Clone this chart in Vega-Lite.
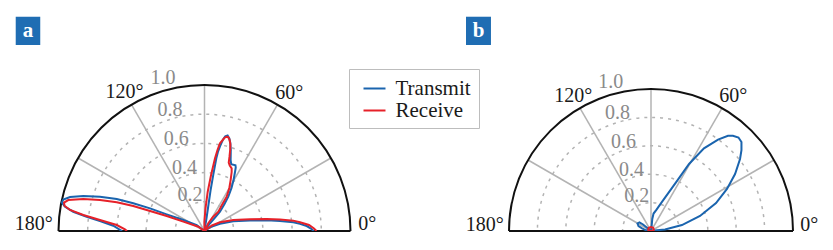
{
"$schema": "https://vega.github.io/schema/vega-lite/v6.json",
"width": 833, "height": 231,
"autosize": {"type": "none"},
"padding": {"left": 0, "top": 0, "right": 0, "bottom": 19},
"background": "white",
"config": {"view": {"stroke": null}, "font": "Liberation Serif",
  "legend": {"orient": "none", "legendX": 349, "legendY": 69, "title": null, "strokeColor": "#bdbdbd", "fillColor": "white", "padding": 7.5, "symbolOffset": 6, "symbolSize": 484, "symbolStrokeWidth": 2, "labelFont": "Liberation Serif", "labelFontSize": 21, "labelOffset": 9, "labelColor": "#1a1a1a", "rowPadding": -4, "labelLimit": 200}},
"datasets": {
  "circles": [{"cx": 0, "cy": 0, "r": 0.2}, {"cx": 0, "cy": 0, "r": 0.4}, {"cx": 0, "cy": 0, "r": 0.6}, {"cx": 0, "cy": 0, "r": 0.8}],
  "outer": [{"cx": 0, "cy": 0, "r": 1}],
  "base": [{"x": -1, "x2": 1, "y": 0}],
  "spokes": [{"x0": 0, "y0": 0, "x": 0.866, "y": 0.5}, {"x0": 0, "y0": 0, "x": 0.5, "y": 0.866}, {"x0": 0, "y0": 0, "x": 0, "y": 1}, {"x0": 0, "y0": 0, "x": -0.5, "y": 0.866}, {"x0": 0, "y0": 0, "x": -0.866, "y": 0.5}],
  "angleLabels": [{"label": "0°", "x": 1.115, "y": 0.045}, {"label": "60°", "x": 0.58, "y": 0.948}, {"label": "120°", "x": -0.548, "y": 0.95}, {"label": "180°", "x": -1.17, "y": 0.045}],
  "radialLabels": [{"label": "0.2", "x": -0.1, "y": 0.249}, {"label": "0.4", "x": -0.137, "y": 0.43}, {"label": "0.6", "x": -0.193, "y": 0.63}, {"label": "0.8", "x": -0.236, "y": 0.831}, {"label": "1.0", "x": -0.284, "y": 1.051}],
  "tagA": [{"label": "a", "x": -1.293, "x2": -1.125, "y": 1.274, "y2": 1.468, "cx": -1.209, "cy": 1.371}],
  "tagB": [{"label": "b", "x": -1.303, "x2": -1.127, "y": 1.31, "y2": 1.509, "cx": -1.215, "cy": 1.41}],
  "curves": [
    {"panel": "a", "series": "Transmit", "i": 1, "x": 0.747, "y": 0},
    {"panel": "a", "series": "Transmit", "i": 2, "x": 0.729, "y": 0.017},
    {"panel": "a", "series": "Transmit", "i": 3, "x": 0.7, "y": 0.034},
    {"panel": "a", "series": "Transmit", "i": 4, "x": 0.654, "y": 0.049},
    {"panel": "a", "series": "Transmit", "i": 5, "x": 0.608, "y": 0.06},
    {"panel": "a", "series": "Transmit", "i": 6, "x": 0.517, "y": 0.068},
    {"panel": "a", "series": "Transmit", "i": 7, "x": 0.426, "y": 0.073},
    {"panel": "a", "series": "Transmit", "i": 8, "x": 0.312, "y": 0.072},
    {"panel": "a", "series": "Transmit", "i": 9, "x": 0.197, "y": 0.066},
    {"panel": "a", "series": "Transmit", "i": 10, "x": 0.106, "y": 0.05},
    {"panel": "a", "series": "Transmit", "i": 11, "x": 0.051, "y": 0.031},
    {"panel": "a", "series": "Transmit", "i": 12, "x": 0.017, "y": 0.012},
    {"panel": "a", "series": "Transmit", "i": 13, "x": 0, "y": 0},
    {"panel": "a", "series": "Transmit", "i": 14, "x": 0.038, "y": 0.053},
    {"panel": "a", "series": "Transmit", "i": 15, "x": 0.072, "y": 0.092},
    {"panel": "a", "series": "Transmit", "i": 16, "x": 0.106, "y": 0.132},
    {"panel": "a", "series": "Transmit", "i": 17, "x": 0.137, "y": 0.185},
    {"panel": "a", "series": "Transmit", "i": 18, "x": 0.163, "y": 0.235},
    {"panel": "a", "series": "Transmit", "i": 19, "x": 0.185, "y": 0.295},
    {"panel": "a", "series": "Transmit", "i": 20, "x": 0.199, "y": 0.349},
    {"panel": "a", "series": "Transmit", "i": 21, "x": 0.209, "y": 0.404},
    {"panel": "a", "series": "Transmit", "i": 22, "x": 0.214, "y": 0.435},
    {"panel": "a", "series": "Transmit", "i": 23, "x": 0.212, "y": 0.45},
    {"panel": "a", "series": "Transmit", "i": 24, "x": 0.183, "y": 0.457},
    {"panel": "a", "series": "Transmit", "i": 25, "x": 0.179, "y": 0.486},
    {"panel": "a", "series": "Transmit", "i": 26, "x": 0.18, "y": 0.555},
    {"panel": "a", "series": "Transmit", "i": 27, "x": 0.177, "y": 0.603},
    {"panel": "a", "series": "Transmit", "i": 28, "x": 0.17, "y": 0.634},
    {"panel": "a", "series": "Transmit", "i": 29, "x": 0.158, "y": 0.654},
    {"panel": "a", "series": "Transmit", "i": 30, "x": 0.142, "y": 0.649},
    {"panel": "a", "series": "Transmit", "i": 31, "x": 0.127, "y": 0.627},
    {"panel": "a", "series": "Transmit", "i": 32, "x": 0.11, "y": 0.589},
    {"panel": "a", "series": "Transmit", "i": 33, "x": 0.092, "y": 0.541},
    {"panel": "a", "series": "Transmit", "i": 34, "x": 0.081, "y": 0.498},
    {"panel": "a", "series": "Transmit", "i": 35, "x": 0.06, "y": 0.384},
    {"panel": "a", "series": "Transmit", "i": 36, "x": 0.042, "y": 0.281},
    {"panel": "a", "series": "Transmit", "i": 37, "x": 0.027, "y": 0.178},
    {"panel": "a", "series": "Transmit", "i": 38, "x": 0.014, "y": 0.089},
    {"panel": "a", "series": "Transmit", "i": 39, "x": 0.005, "y": 0.034},
    {"panel": "a", "series": "Transmit", "i": 40, "x": 0, "y": 0},
    {"panel": "a", "series": "Transmit", "i": 41, "x": -0.053, "y": 0.041},
    {"panel": "a", "series": "Transmit", "i": 42, "x": -0.145, "y": 0.075},
    {"panel": "a", "series": "Transmit", "i": 43, "x": -0.259, "y": 0.114},
    {"panel": "a", "series": "Transmit", "i": 44, "x": -0.373, "y": 0.155},
    {"panel": "a", "series": "Transmit", "i": 45, "x": -0.488, "y": 0.19},
    {"panel": "a", "series": "Transmit", "i": 46, "x": -0.601, "y": 0.219},
    {"panel": "a", "series": "Transmit", "i": 47, "x": -0.716, "y": 0.235},
    {"panel": "a", "series": "Transmit", "i": 48, "x": -0.83, "y": 0.24},
    {"panel": "a", "series": "Transmit", "i": 49, "x": -0.921, "y": 0.233},
    {"panel": "a", "series": "Transmit", "i": 50, "x": -0.967, "y": 0.216},
    {"panel": "a", "series": "Transmit", "i": 51, "x": -0.977, "y": 0.195},
    {"panel": "a", "series": "Transmit", "i": 52, "x": -0.955, "y": 0.166},
    {"panel": "a", "series": "Transmit", "i": 53, "x": -0.899, "y": 0.132},
    {"panel": "a", "series": "Transmit", "i": 54, "x": -0.807, "y": 0.098},
    {"panel": "a", "series": "Transmit", "i": 55, "x": -0.716, "y": 0.068},
    {"panel": "a", "series": "Transmit", "i": 56, "x": -0.625, "y": 0.036},
    {"panel": "a", "series": "Transmit", "i": 57, "x": -0.565, "y": 0},
    {"panel": "a", "series": "Receive", "i": 1, "x": 0.767, "y": 0},
    {"panel": "a", "series": "Receive", "i": 2, "x": 0.75, "y": 0.017},
    {"panel": "a", "series": "Receive", "i": 3, "x": 0.716, "y": 0.041},
    {"panel": "a", "series": "Receive", "i": 4, "x": 0.654, "y": 0.06},
    {"panel": "a", "series": "Receive", "i": 5, "x": 0.608, "y": 0.071},
    {"panel": "a", "series": "Receive", "i": 6, "x": 0.517, "y": 0.079},
    {"panel": "a", "series": "Receive", "i": 7, "x": 0.426, "y": 0.082},
    {"panel": "a", "series": "Receive", "i": 8, "x": 0.312, "y": 0.081},
    {"panel": "a", "series": "Receive", "i": 9, "x": 0.197, "y": 0.075},
    {"panel": "a", "series": "Receive", "i": 10, "x": 0.106, "y": 0.06},
    {"panel": "a", "series": "Receive", "i": 11, "x": 0.051, "y": 0.038},
    {"panel": "a", "series": "Receive", "i": 12, "x": 0.017, "y": 0.014},
    {"panel": "a", "series": "Receive", "i": 13, "x": 0, "y": 0},
    {"panel": "a", "series": "Receive", "i": 14, "x": 0.026, "y": 0.053},
    {"panel": "a", "series": "Receive", "i": 15, "x": 0.058, "y": 0.096},
    {"panel": "a", "series": "Receive", "i": 16, "x": 0.095, "y": 0.132},
    {"panel": "a", "series": "Receive", "i": 17, "x": 0.127, "y": 0.192},
    {"panel": "a", "series": "Receive", "i": 18, "x": 0.152, "y": 0.235},
    {"panel": "a", "series": "Receive", "i": 19, "x": 0.17, "y": 0.295},
    {"panel": "a", "series": "Receive", "i": 20, "x": 0.179, "y": 0.349},
    {"panel": "a", "series": "Receive", "i": 21, "x": 0.186, "y": 0.404},
    {"panel": "a", "series": "Receive", "i": 22, "x": 0.186, "y": 0.429},
    {"panel": "a", "series": "Receive", "i": 23, "x": 0.173, "y": 0.449},
    {"panel": "a", "series": "Receive", "i": 24, "x": 0.166, "y": 0.469},
    {"panel": "a", "series": "Receive", "i": 25, "x": 0.171, "y": 0.507},
    {"panel": "a", "series": "Receive", "i": 26, "x": 0.176, "y": 0.555},
    {"panel": "a", "series": "Receive", "i": 27, "x": 0.177, "y": 0.596},
    {"panel": "a", "series": "Receive", "i": 28, "x": 0.171, "y": 0.627},
    {"panel": "a", "series": "Receive", "i": 29, "x": 0.161, "y": 0.644},
    {"panel": "a", "series": "Receive", "i": 30, "x": 0.151, "y": 0.646},
    {"panel": "a", "series": "Receive", "i": 31, "x": 0.136, "y": 0.637},
    {"panel": "a", "series": "Receive", "i": 32, "x": 0.106, "y": 0.601},
    {"panel": "a", "series": "Receive", "i": 33, "x": 0.089, "y": 0.555},
    {"panel": "a", "series": "Receive", "i": 34, "x": 0.072, "y": 0.498},
    {"panel": "a", "series": "Receive", "i": 35, "x": 0.045, "y": 0.384},
    {"panel": "a", "series": "Receive", "i": 36, "x": 0.022, "y": 0.269},
    {"panel": "a", "series": "Receive", "i": 37, "x": 0.007, "y": 0.155},
    {"panel": "a", "series": "Receive", "i": 38, "x": -0.001, "y": 0.062},
    {"panel": "a", "series": "Receive", "i": 39, "x": 0, "y": 0},
    {"panel": "a", "series": "Receive", "i": 40, "x": -0.042, "y": 0.029},
    {"panel": "a", "series": "Receive", "i": 41, "x": -0.145, "y": 0.064},
    {"panel": "a", "series": "Receive", "i": 42, "x": -0.259, "y": 0.103},
    {"panel": "a", "series": "Receive", "i": 43, "x": -0.373, "y": 0.137},
    {"panel": "a", "series": "Receive", "i": 44, "x": -0.488, "y": 0.171},
    {"panel": "a", "series": "Receive", "i": 45, "x": -0.601, "y": 0.197},
    {"panel": "a", "series": "Receive", "i": 46, "x": -0.716, "y": 0.212},
    {"panel": "a", "series": "Receive", "i": 47, "x": -0.83, "y": 0.219},
    {"panel": "a", "series": "Receive", "i": 48, "x": -0.933, "y": 0.212},
    {"panel": "a", "series": "Receive", "i": 49, "x": -0.962, "y": 0.195},
    {"panel": "a", "series": "Receive", "i": 50, "x": -0.959, "y": 0.173},
    {"panel": "a", "series": "Receive", "i": 51, "x": -0.921, "y": 0.144},
    {"panel": "a", "series": "Receive", "i": 52, "x": -0.83, "y": 0.11},
    {"panel": "a", "series": "Receive", "i": 53, "x": -0.716, "y": 0.075},
    {"panel": "a", "series": "Receive", "i": 54, "x": -0.601, "y": 0.041},
    {"panel": "a", "series": "Receive", "i": 55, "x": -0.545, "y": 0.012},
    {"panel": "a", "series": "Receive", "i": 56, "x": -0.531, "y": 0},
    {"panel": "b", "series": "Transmit", "i": 1, "x": 0, "y": 0},
    {"panel": "b", "series": "Transmit", "i": 2, "x": 0.042, "y": 0.005},
    {"panel": "b", "series": "Transmit", "i": 3, "x": 0.099, "y": 0.011},
    {"panel": "b", "series": "Transmit", "i": 4, "x": 0.218, "y": 0.042},
    {"panel": "b", "series": "Transmit", "i": 5, "x": 0.345, "y": 0.106},
    {"panel": "b", "series": "Transmit", "i": 6, "x": 0.458, "y": 0.197},
    {"panel": "b", "series": "Transmit", "i": 7, "x": 0.535, "y": 0.296},
    {"panel": "b", "series": "Transmit", "i": 8, "x": 0.592, "y": 0.401},
    {"panel": "b", "series": "Transmit", "i": 9, "x": 0.627, "y": 0.507},
    {"panel": "b", "series": "Transmit", "i": 10, "x": 0.637, "y": 0.57},
    {"panel": "b", "series": "Transmit", "i": 11, "x": 0.637, "y": 0.627},
    {"panel": "b", "series": "Transmit", "i": 12, "x": 0.616, "y": 0.658},
    {"panel": "b", "series": "Transmit", "i": 13, "x": 0.577, "y": 0.67},
    {"panel": "b", "series": "Transmit", "i": 14, "x": 0.542, "y": 0.67},
    {"panel": "b", "series": "Transmit", "i": 15, "x": 0.472, "y": 0.644},
    {"panel": "b", "series": "Transmit", "i": 16, "x": 0.373, "y": 0.582},
    {"panel": "b", "series": "Transmit", "i": 17, "x": 0.268, "y": 0.472},
    {"panel": "b", "series": "Transmit", "i": 18, "x": 0.176, "y": 0.342},
    {"panel": "b", "series": "Transmit", "i": 19, "x": 0.081, "y": 0.211},
    {"panel": "b", "series": "Transmit", "i": 20, "x": 0.039, "y": 0.151},
    {"panel": "b", "series": "Transmit", "i": 21, "x": 0.018, "y": 0.123},
    {"panel": "b", "series": "Transmit", "i": 22, "x": 0.009, "y": 0.085},
    {"panel": "b", "series": "Transmit", "i": 23, "x": 0.005, "y": 0.042},
    {"panel": "b", "series": "Transmit", "i": 24, "x": 0, "y": 0},
    {"panel": "b", "series": "Transmit", "i": 25, "x": -0.021, "y": 0.018},
    {"panel": "b", "series": "Transmit", "i": 26, "x": -0.056, "y": 0.046},
    {"panel": "b", "series": "Transmit", "i": 27, "x": -0.081, "y": 0.06},
    {"panel": "b", "series": "Transmit", "i": 28, "x": -0.095, "y": 0.053},
    {"panel": "b", "series": "Transmit", "i": 29, "x": -0.088, "y": 0.035},
    {"panel": "b", "series": "Transmit", "i": 30, "x": -0.063, "y": 0.018},
    {"panel": "b", "series": "Transmit", "i": 31, "x": -0.035, "y": 0.005},
    {"panel": "b", "series": "Transmit", "i": 32, "x": 0, "y": 0},
    {"panel": "b", "series": "Receive", "i": 1, "x": 0, "y": 0},
    {"panel": "b", "series": "Receive", "i": 2, "x": -0.02, "y": 0.008},
    {"panel": "b", "series": "Receive", "i": 3, "x": -0.016, "y": 0.022},
    {"panel": "b", "series": "Receive", "i": 4, "x": 0, "y": 0.028},
    {"panel": "b", "series": "Receive", "i": 5, "x": 0.016, "y": 0.022},
    {"panel": "b", "series": "Receive", "i": 6, "x": 0.02, "y": 0.008},
    {"panel": "b", "series": "Receive", "i": 7, "x": 0, "y": 0}
  ]
},
"resolve": {"scale": {"x": "independent", "y": "independent", "size": "independent"}},
"layer": [
 {"layer": [
  {"data": {"name": "circles"}, "mark": {"type": "point", "shape": "circle", "filled": false, "clip": true, "stroke": "#b3b3b3", "strokeWidth": 1.5, "strokeDash": [3, 5], "opacity": 1},
   "encoding": {"x": {"field": "cx", "type": "quantitative", "scale": {"domain": [-1.40068, 4.30479], "nice": false, "zero": false}, "axis": null},
                "y": {"field": "cy", "type": "quantitative", "scale": {"domain": [0, 1.58219], "nice": false, "zero": false}, "axis": null},
                "size": {"field": "r", "type": "quantitative", "scale": {"type": "pow", "exponent": 2, "domain": [0, 1], "range": [0, 85264]}, "legend": null}}},
  {"data": {"name": "spokes"}, "mark": {"type": "rule", "stroke": "#b3b3b3", "strokeWidth": 1.5},
   "encoding": {"x": {"field": "x0", "type": "quantitative", "scale": {"domain": [-1.40068, 4.30479], "nice": false, "zero": false}, "axis": null},
                "y": {"field": "y0", "type": "quantitative", "scale": {"domain": [0, 1.58219], "nice": false, "zero": false}, "axis": null},
                "x2": {"field": "x"}, "y2": {"field": "y"}}},
  {"data": {"name": "outer"}, "mark": {"type": "point", "shape": "circle", "filled": false, "clip": true, "stroke": "#111111", "strokeWidth": 2, "opacity": 1},
   "encoding": {"x": {"field": "cx", "type": "quantitative", "scale": {"domain": [-1.40068, 4.30479], "nice": false, "zero": false}, "axis": null},
                "y": {"field": "cy", "type": "quantitative", "scale": {"domain": [0, 1.58219], "nice": false, "zero": false}, "axis": null},
                "size": {"field": "r", "type": "quantitative", "scale": {"type": "pow", "exponent": 2, "domain": [0, 1], "range": [0, 85264]}, "legend": null}}},
  {"data": {"name": "base"}, "mark": {"type": "rule", "stroke": "#111111", "strokeWidth": 2},
   "encoding": {"x": {"field": "x", "type": "quantitative", "scale": {"domain": [-1.40068, 4.30479], "nice": false, "zero": false}, "axis": null},
                "x2": {"field": "x2"},
                "y": {"field": "y", "type": "quantitative", "scale": {"domain": [0, 1.58219], "nice": false, "zero": false}, "axis": null}}},
  {"data": {"name": "radialLabels"}, "mark": {"type": "text", "font": "Liberation Serif", "fontSize": 20, "color": "#8a8a8a", "align": "center", "baseline": "middle"},
   "encoding": {"x": {"field": "x", "type": "quantitative", "scale": {"domain": [-1.40068, 4.30479], "nice": false, "zero": false}, "axis": null},
                "y": {"field": "y", "type": "quantitative", "scale": {"domain": [0, 1.58219], "nice": false, "zero": false}, "axis": null},
                "text": {"field": "label", "type": "nominal"}}},
  {"data": {"name": "angleLabels"}, "mark": {"type": "text", "font": "Liberation Serif", "fontSize": 20, "color": "#1a1a1a", "align": "center", "baseline": "middle"},
   "encoding": {"x": {"field": "x", "type": "quantitative", "scale": {"domain": [-1.40068, 4.30479], "nice": false, "zero": false}, "axis": null},
                "y": {"field": "y", "type": "quantitative", "scale": {"domain": [0, 1.58219], "nice": false, "zero": false}, "axis": null},
                "text": {"field": "label", "type": "nominal"}}},
  {"data": {"name": "tagA"}, "mark": {"type": "rect", "color": "#1f6db3"},
   "encoding": {"x": {"field": "x", "type": "quantitative", "scale": {"domain": [-1.40068, 4.30479], "nice": false, "zero": false}, "axis": null},
                "x2": {"field": "x2"},
                "y": {"field": "y", "type": "quantitative", "scale": {"domain": [0, 1.58219], "nice": false, "zero": false}, "axis": null},
                "y2": {"field": "y2"}}},
  {"data": {"name": "tagA"}, "mark": {"type": "text", "font": "Liberation Serif", "fontSize": 21, "fontWeight": "bold", "color": "white", "align": "center", "baseline": "middle"},
   "encoding": {"x": {"field": "cx", "type": "quantitative", "scale": {"domain": [-1.40068, 4.30479], "nice": false, "zero": false}, "axis": null},
                "y": {"field": "cy", "type": "quantitative", "scale": {"domain": [0, 1.58219], "nice": false, "zero": false}, "axis": null},
                "text": {"field": "label", "type": "nominal"}}},
  {"data": {"name": "curves"}, "transform": [{"filter": "datum.panel == 'a' && datum.series == 'Transmit'"}],
   "mark": {"type": "line", "strokeWidth": 2, "clip": true},
   "encoding": {"x": {"field": "x", "type": "quantitative", "scale": {"domain": [-1.40068, 4.30479], "nice": false, "zero": false}, "axis": null},
                "y": {"field": "y", "type": "quantitative", "scale": {"domain": [0, 1.58219], "nice": false, "zero": false}, "axis": null},
                "order": {"field": "i", "type": "quantitative"},
                "color": {"field": "series", "type": "nominal", "scale": {"domain": ["Transmit", "Receive"], "range": ["#1a64ae", "#e62129"]}}}},
  {"data": {"name": "curves"}, "transform": [{"filter": "datum.panel == 'a' && datum.series == 'Receive'"}],
   "mark": {"type": "line", "strokeWidth": 2, "clip": true},
   "encoding": {"x": {"field": "x", "type": "quantitative", "scale": {"domain": [-1.40068, 4.30479], "nice": false, "zero": false}, "axis": null},
                "y": {"field": "y", "type": "quantitative", "scale": {"domain": [0, 1.58219], "nice": false, "zero": false}, "axis": null},
                "order": {"field": "i", "type": "quantitative"},
                "color": {"field": "series", "type": "nominal", "scale": {"domain": ["Transmit", "Receive"], "range": ["#1a64ae", "#e62129"]}}}}
 ]},
 {"layer": [
  {"data": {"name": "circles"}, "mark": {"type": "point", "shape": "circle", "filled": false, "clip": true, "stroke": "#b3b3b3", "strokeWidth": 1.5, "strokeDash": [3, 5], "opacity": 1},
   "encoding": {"x": {"field": "cx", "type": "quantitative", "scale": {"domain": [-4.58451, 1.28169], "nice": false, "zero": false}, "axis": null},
                "y": {"field": "cy", "type": "quantitative", "scale": {"domain": [0, 1.62676], "nice": false, "zero": false}, "axis": null},
                "size": {"field": "r", "type": "quantitative", "scale": {"type": "pow", "exponent": 2, "domain": [0, 1], "range": [0, 80656]}, "legend": null}}},
  {"data": {"name": "spokes"}, "mark": {"type": "rule", "stroke": "#b3b3b3", "strokeWidth": 1.5},
   "encoding": {"x": {"field": "x0", "type": "quantitative", "scale": {"domain": [-4.58451, 1.28169], "nice": false, "zero": false}, "axis": null},
                "y": {"field": "y0", "type": "quantitative", "scale": {"domain": [0, 1.62676], "nice": false, "zero": false}, "axis": null},
                "x2": {"field": "x"}, "y2": {"field": "y"}}},
  {"data": {"name": "outer"}, "mark": {"type": "point", "shape": "circle", "filled": false, "clip": true, "stroke": "#111111", "strokeWidth": 2, "opacity": 1},
   "encoding": {"x": {"field": "cx", "type": "quantitative", "scale": {"domain": [-4.58451, 1.28169], "nice": false, "zero": false}, "axis": null},
                "y": {"field": "cy", "type": "quantitative", "scale": {"domain": [0, 1.62676], "nice": false, "zero": false}, "axis": null},
                "size": {"field": "r", "type": "quantitative", "scale": {"type": "pow", "exponent": 2, "domain": [0, 1], "range": [0, 80656]}, "legend": null}}},
  {"data": {"name": "base"}, "mark": {"type": "rule", "stroke": "#111111", "strokeWidth": 2},
   "encoding": {"x": {"field": "x", "type": "quantitative", "scale": {"domain": [-4.58451, 1.28169], "nice": false, "zero": false}, "axis": null},
                "x2": {"field": "x2"},
                "y": {"field": "y", "type": "quantitative", "scale": {"domain": [0, 1.62676], "nice": false, "zero": false}, "axis": null}}},
  {"data": {"name": "radialLabels"}, "mark": {"type": "text", "font": "Liberation Serif", "fontSize": 20, "color": "#8a8a8a", "align": "center", "baseline": "middle"},
   "encoding": {"x": {"field": "x", "type": "quantitative", "scale": {"domain": [-4.58451, 1.28169], "nice": false, "zero": false}, "axis": null},
                "y": {"field": "y", "type": "quantitative", "scale": {"domain": [0, 1.62676], "nice": false, "zero": false}, "axis": null},
                "text": {"field": "label", "type": "nominal"}}},
  {"data": {"name": "angleLabels"}, "mark": {"type": "text", "font": "Liberation Serif", "fontSize": 20, "color": "#1a1a1a", "align": "center", "baseline": "middle"},
   "encoding": {"x": {"field": "x", "type": "quantitative", "scale": {"domain": [-4.58451, 1.28169], "nice": false, "zero": false}, "axis": null},
                "y": {"field": "y", "type": "quantitative", "scale": {"domain": [0, 1.62676], "nice": false, "zero": false}, "axis": null},
                "text": {"field": "label", "type": "nominal"}}},
  {"data": {"name": "tagB"}, "mark": {"type": "rect", "color": "#1f6db3"},
   "encoding": {"x": {"field": "x", "type": "quantitative", "scale": {"domain": [-4.58451, 1.28169], "nice": false, "zero": false}, "axis": null},
                "x2": {"field": "x2"},
                "y": {"field": "y", "type": "quantitative", "scale": {"domain": [0, 1.62676], "nice": false, "zero": false}, "axis": null},
                "y2": {"field": "y2"}}},
  {"data": {"name": "tagB"}, "mark": {"type": "text", "font": "Liberation Serif", "fontSize": 21, "fontWeight": "bold", "color": "white", "align": "center", "baseline": "middle"},
   "encoding": {"x": {"field": "cx", "type": "quantitative", "scale": {"domain": [-4.58451, 1.28169], "nice": false, "zero": false}, "axis": null},
                "y": {"field": "cy", "type": "quantitative", "scale": {"domain": [0, 1.62676], "nice": false, "zero": false}, "axis": null},
                "text": {"field": "label", "type": "nominal"}}},
  {"data": {"name": "curves"}, "transform": [{"filter": "datum.panel == 'b' && datum.series == 'Transmit'"}],
   "mark": {"type": "line", "strokeWidth": 2, "clip": true},
   "encoding": {"x": {"field": "x", "type": "quantitative", "scale": {"domain": [-4.58451, 1.28169], "nice": false, "zero": false}, "axis": null},
                "y": {"field": "y", "type": "quantitative", "scale": {"domain": [0, 1.62676], "nice": false, "zero": false}, "axis": null},
                "order": {"field": "i", "type": "quantitative"},
                "color": {"field": "series", "type": "nominal", "scale": {"domain": ["Transmit", "Receive"], "range": ["#1a64ae", "#e62129"]}}}},
  {"data": {"name": "curves"}, "transform": [{"filter": "datum.panel == 'b' && datum.series == 'Receive'"}],
   "mark": {"type": "line", "strokeWidth": 2, "clip": true},
   "encoding": {"x": {"field": "x", "type": "quantitative", "scale": {"domain": [-4.58451, 1.28169], "nice": false, "zero": false}, "axis": null},
                "y": {"field": "y", "type": "quantitative", "scale": {"domain": [0, 1.62676], "nice": false, "zero": false}, "axis": null},
                "order": {"field": "i", "type": "quantitative"},
                "color": {"field": "series", "type": "nominal", "scale": {"domain": ["Transmit", "Receive"], "range": ["#1a64ae", "#e62129"]}}}}
 ]}
]
}
